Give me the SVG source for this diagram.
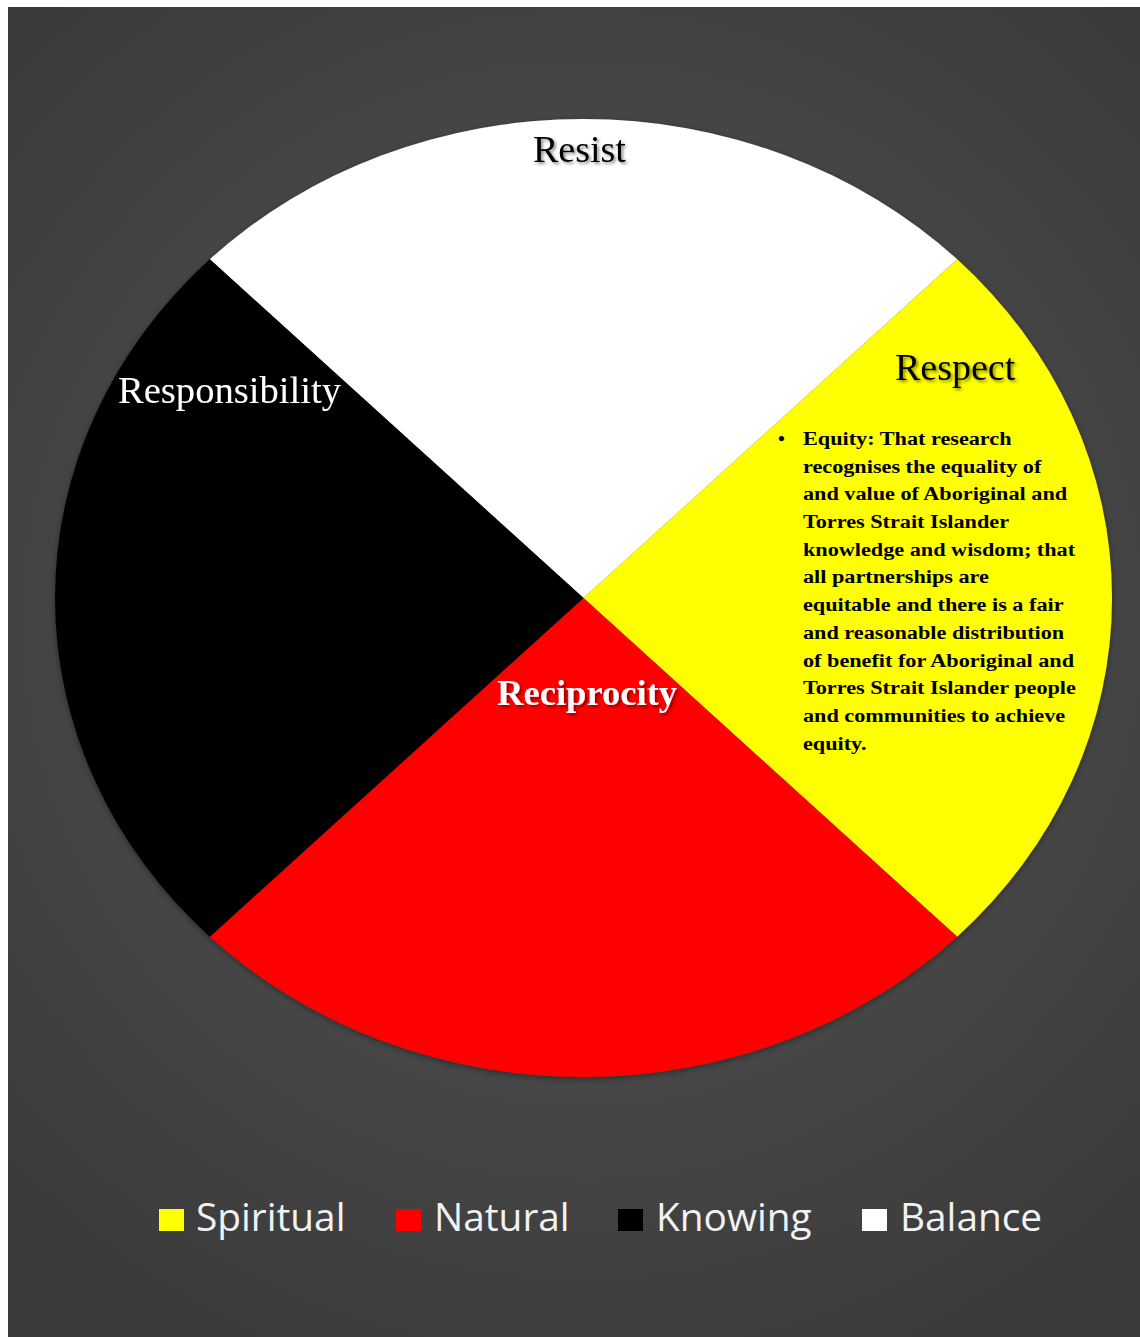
<svg xmlns="http://www.w3.org/2000/svg" width="1140" height="1337" viewBox="0 0 1140 1337">
<defs>
<radialGradient id="bg" cx="583" cy="620" r="820" gradientUnits="userSpaceOnUse">
<stop offset="0" stop-color="#575757"/>
<stop offset="1" stop-color="#3a3a3a"/>
</radialGradient>
<filter id="pieShadow" x="-10%" y="-10%" width="120%" height="120%">
<feDropShadow dx="0" dy="2" stdDeviation="3" flood-color="#000" flood-opacity="0.4"/>
</filter>
<filter id="txtShadow" x="-10%" y="-30%" width="120%" height="160%">
<feDropShadow dx="2" dy="2" stdDeviation="1.5" flood-color="#000" flood-opacity="0.45"/>
</filter>
</defs>
<style>
.lbl{font-family:"Liberation Serif","Times New Roman",serif;font-size:38px}
.body{font-family:"Liberation Serif","Times New Roman",serif;font-size:19.5px;font-weight:bold;fill:#000}
.leg{font-family:"Open Sans","Liberation Sans",sans-serif;font-size:38.8px;fill:#f2f2f2}
</style>
<rect x="0" y="0" width="1140" height="1337" fill="#ffffff"/>
<rect x="8" y="7" width="1132" height="1330" fill="url(#bg)"/>

<g id="pie" filter="url(#pieShadow)">
<g id="seg-resist"><path d="M583.5,598 L209.8,259.3 A528.5,479 0 0 1 957.2,259.3 Z" fill="#ffffff"/></g>
<g id="seg-respect"><path d="M583.5,598 L957.2,259.3 A528.5,479 0 0 1 957.2,936.7 Z" fill="#ffff00"/></g>
<g id="seg-reciprocity"><path d="M583.5,598 L957.2,936.7 A528.5,479 0 0 1 209.8,936.7 Z" fill="#ff0000"/></g>
<g id="seg-responsibility"><path d="M583.5,598 L209.8,936.7 A528.5,479 0 0 1 209.8,259.3 Z" fill="#000000"/></g>
</g>

<g id="labels" filter="url(#txtShadow)">
<text class="lbl" x="533" y="162" fill="#000">Resist</text>
<text class="lbl" x="118" y="403" fill="#ffffff" style="font-size:38.6px">Responsibility</text>
<text class="lbl" x="895" y="380" fill="#000">Respect</text>
<text class="lbl" x="497" y="705" fill="#ffffff" style="font-size:36.6px;font-weight:bold">Reciprocity</text>
</g>

<g id="equity-text">
<text class="body" x="778" y="445">•</text>
<text class="body" transform="translate(803,0) scale(1.14,1) translate(-803,0)">
<tspan x="803" y="445">Equity: That research</tspan>
<tspan x="803" y="472.7">recognises the equality of</tspan>
<tspan x="803" y="500.4">and value of Aboriginal and</tspan>
<tspan x="803" y="528.1">Torres Strait Islander</tspan>
<tspan x="803" y="555.8">knowledge and wisdom; that</tspan>
<tspan x="803" y="583.5">all partnerships are</tspan>
<tspan x="803" y="611.2">equitable and there is a fair</tspan>
<tspan x="803" y="638.9">and reasonable distribution</tspan>
<tspan x="803" y="666.6">of benefit for Aboriginal and</tspan>
<tspan x="803" y="694.3">Torres Strait Islander people</tspan>
<tspan x="803" y="722">and communities to achieve</tspan>
<tspan x="803" y="749.7">equity.</tspan>
</text>
</g>

<g id="legend">
<g id="leg-spiritual"><rect x="159" y="1209" width="25" height="22" fill="#ffff00"/><text class="leg" x="196" y="1231">Spiritual</text></g>
<g id="leg-natural"><rect x="396" y="1209" width="25" height="22" fill="#ff0000"/><text class="leg" x="434" y="1231">Natural</text></g>
<g id="leg-knowing"><rect x="618" y="1209" width="25" height="22" fill="#000000"/><text class="leg" x="656" y="1231">Knowing</text></g>
<g id="leg-balance"><rect x="862" y="1209" width="25" height="22" fill="#ffffff"/><text class="leg" x="900" y="1231">Balance</text></g>
</g>
</svg>
